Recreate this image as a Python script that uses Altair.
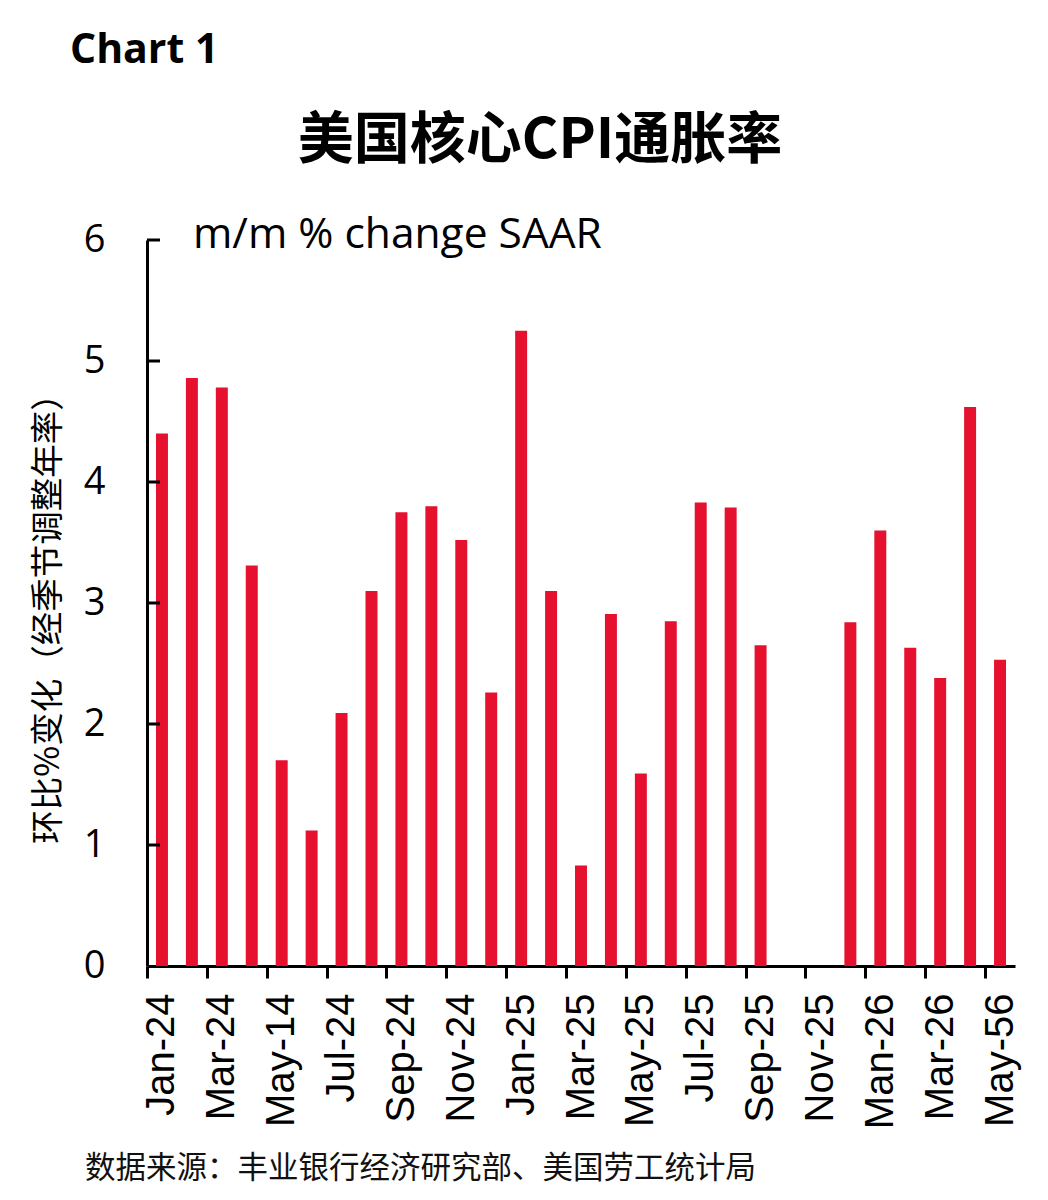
import json
import altair as alt
import pandas as pd

# ---------------- data ----------------
months = [
    "Jan-24", "Feb-24", "Mar-24", "Apr-24", "May-24", "Jun-24", "Jul-24", "Aug-24",
    "Sep-24", "Oct-24", "Nov-24", "Dec-24", "Jan-25", "Feb-25", "Mar-25", "Apr-25",
    "May-25", "Jun-25", "Jul-25", "Aug-25", "Sep-25", "Oct-25", "Nov-25", "Dec-25",
    "Jan-26", "Feb-26", "Mar-26", "Apr-26", "May-26",
]
values = [
    4.40, 4.86, 4.78, 3.31, 1.70, 1.12, 2.09, 3.10,
    3.75, 3.80, 3.52, 2.26, 5.25, 3.10, 0.83, 2.91,
    1.59, 2.85, 3.83, 3.79, 2.65, None, None, 2.84,
    3.60, 2.63, 2.38, 4.62, 2.53,
]
tick_months = [
    "Jan-24", "Mar-24", "May-24", "Jul-24", "Sep-24", "Nov-24", "Jan-25", "Mar-25",
    "May-25", "Jul-25", "Sep-25", "Nov-25", "Jan-26", "Mar-26", "May-26",
]
tick_labels = [
    "Jan-24", "Mar-24", "May-14", "Jul-24", "Sep-24", "Nov-24", "Jan-25", "Mar-25",
    "May-25", "Jul-25", "Sep-25", "Nov-25", "Man-26", "Mar-26", "May-56",
]
y_labels = [0, 1, 2, 3, 4, 5, 6]
y_ticks = [1, 2, 3, 4, 5, 6]

chart_tag = "Chart 1"
title_text = "美国核心CPI通胀率"
unit_text = "m/m % change SAAR"
y_title = "环比%变化（经季节调整年率）"
source_text = "数据来源：丰业银行经济研究部、美国劳工统计局"

# ---------------- chart ----------------
W, H = 868, 726
BAR_COLOR = "#E5112F"
CJK = "Noto Sans CJK SC"
LATIN = "Open Sans"

df = pd.DataFrame({"month": months, "value": values})

tm = json.dumps(tick_months)
tl = json.dumps(tick_labels)
label_expr = f"indexof({tm}, datum.value) >= 0 ? {tl}[indexof({tm}, datum.value)] : ''"

bars = alt.Chart(df).mark_bar(color=BAR_COLOR).encode(
    x=alt.X(
        "month:N",
        sort=months,
        scale=alt.Scale(domain=months, paddingInner=0.6, paddingOuter=0.3),
        axis=alt.Axis(
            values=tick_months,
            labelExpr=label_expr,
            labelAngle=270,
            labelFont="Liberation Sans",
            labelFontSize=40,
            labelColor="#000000",
            labelPadding=15,
            labelOffset=15,
            tickOffset=-15,
            tickSize=12,
            tickWidth=3,
            tickColor="#000000",
            domainWidth=3,
            domainColor="#000000",
            title=None,
            grid=False,
        ),
    ),
    y=alt.Y(
        "value:Q",
        scale=alt.Scale(domain=[0, 6], nice=False, zero=True),
        axis=alt.Axis(
            values=y_labels,
            format="d",
            ticks=False,
            tickSize=0,
            labelFont=LATIN,
            labelFontSize=38,
            labelColor="#000000",
            labelPadding=42,
            domainWidth=3,
            domainColor="#000000",
            grid=False,
            title=y_title,
            titleFont=CJK,
            titleFontSize=33.5,
            titleFontWeight="normal",
            titleColor="#000000",
            titleAngle=270,
            titleAlign="center",
            titleBaseline="middle",
            titleX=-99,
            titleY=370,
        ),
    ),
)

ticks_in = alt.Chart(pd.DataFrame({"value": y_ticks})).mark_rule(
    color="#000000", strokeWidth=3
).encode(
    y=alt.Y("value:Q"),
    x=alt.value(0),
    x2=alt.value(13),
)


def label(text, x, y, size, font, weight="normal", align="left", color="#000000"):
    return alt.Chart(pd.DataFrame({"t": [text]})).mark_text(
        align=align,
        baseline="alphabetic",
        fontSize=size,
        font=font,
        fontWeight=weight,
        color=color,
    ).encode(text="t:N", x=alt.value(x), y=alt.value(y))


tag = label(chart_tag, -77, -177, 41, LATIN, weight="bold")
title = label(title_text, 393, -82, 56, CJK, weight="bold", align="center")
unit = label(unit_text, 46, 8, 42.5, LATIN)
source = label(source_text, -62, 938, 30.5, CJK, color="#111111")

chart = alt.layer(bars, ticks_in, tag, title, unit, source).properties(
    width=W,
    height=H,
    padding={"left": 139, "top": 232, "right": 25, "bottom": 224},
    autosize=alt.AutoSizeParams(type="none"),
    background="#ffffff",
).configure_view(stroke=None)

chart.save("out.html", embed_options={"renderer": "svg", "actions": False})
